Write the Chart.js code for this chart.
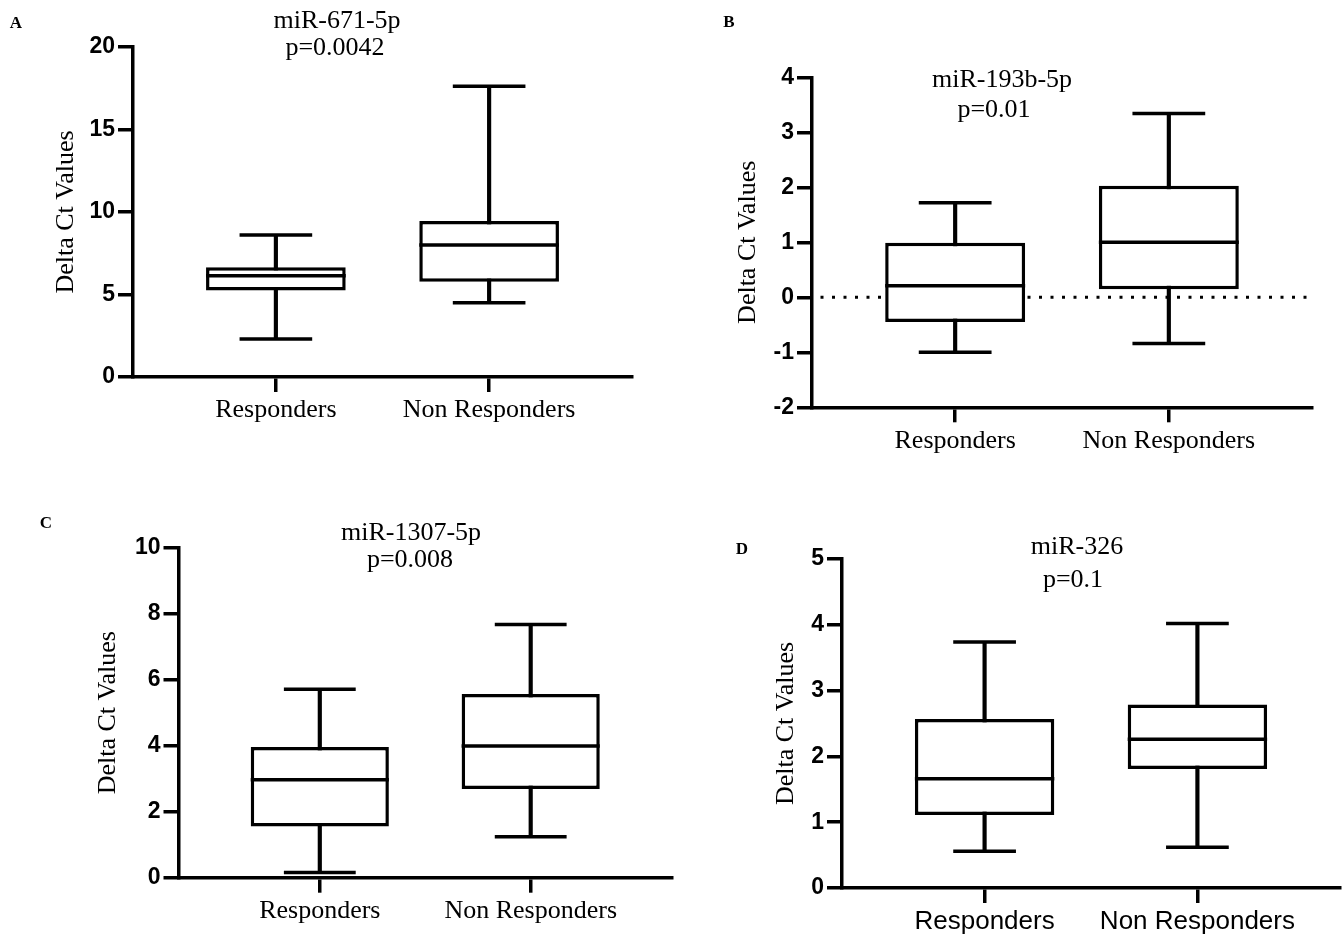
<!DOCTYPE html>
<html>
<head>
<meta charset="utf-8">
<script src="https://cdn.jsdelivr.net/npm/chart.js@4.4.0/dist/chart.umd.min.js"></script>
<style>
  html, body { margin: 0; padding: 0; background: #fff; }
  #fig { position: relative; width: 1343px; height: 934px; overflow: hidden; background: #fff; }
  #fig canvas { position: absolute; }
</style>
</head>
<body>
<div id="fig">
  <canvas id="chartA"></canvas>
  <canvas id="chartB"></canvas>
  <canvas id="chartC"></canvas>
  <canvas id="chartD"></canvas>
</div>
<script>
/* === DATA === */
const categories = ['Responders', 'Non Responders'];
// each box: [min, q1, median, q3, max]
const respondersA = [2.30, 5.24, 6.13, 6.65, 8.61];
const nonRespondersA = [4.50, 5.77, 8.00, 9.46, 17.62];
const respondersB = [-1.00, -0.45, 0.21, 0.99, 1.72];
const nonRespondersB = [-0.84, 0.145, 1.00, 2.03, 3.34];
const respondersC = [0.16, 1.55, 2.97, 3.96, 5.71];
const nonRespondersC = [1.24, 2.69, 3.99, 5.57, 7.67];
const respondersD = [0.56, 1.11, 1.66, 2.57, 3.74];
const nonRespondersD = [0.62, 1.81, 2.26, 2.79, 4.02];

const panelLetters = ['A', 'B', 'C', 'D'];
const panelTitles = ['miR-671-5p', 'miR-193b-5p', 'miR-1307-5p', 'miR-326'];
const pValues = ['p=0.0042', 'p=0.01', 'p=0.008', 'p=0.1'];
const yMins = [0, -2, 0, 0];
const yMaxs = [20, 4, 10, 5];
const ySteps = [5, 1, 2, 1];
const yTitle = 'Delta Ct Values';

/* === STYLE / LAYOUT === */
const LINE = 3.5;
const X_MIN = 0.33, X_MAX = 2.67;
const SERIF = 'Liberation Serif, Times New Roman, serif';
const SANS = 'Liberation Sans, Arial, sans-serif';

// page coordinates: canvas [left, top, w, h], plot area [left, top, right, bottom]
const LAYOUT = [
  { id: 'chartA', canvas: [0, 0, 670, 440], area: [133, 47, 632, 377], yTitleX: 66,
    title: [337, 21], pval: [335, 48], letter: [16, 24], capRatio: 0.52, xFont: SERIF },
  { id: 'chartB', canvas: [680, 0, 663, 470], area: [812, 77.3, 1312, 407.3], yTitleX: 748.5,
    title: [1002, 80], pval: [994, 110], letter: [729, 23], capRatio: 0.52, xFont: SERIF, zeroLine: true },
  { id: 'chartC', canvas: [0, 480, 690, 454], area: [178.5, 547.7, 672, 877.7], yTitleX: 108,
    title: [411, 533], pval: [410, 560], letter: [46, 524], capRatio: 0.52, xFont: SERIF },
  { id: 'chartD', canvas: [700, 480, 643, 454], area: [842, 559, 1340, 888], yTitleX: 786,
    title: [1077, 547], pval: [1073, 580], letter: [742, 550], capRatio: 0.45, xFont: SANS }
];

const panelStats = [
  [respondersA, nonRespondersA],
  [respondersB, nonRespondersB],
  [respondersC, nonRespondersC],
  [respondersD, nonRespondersD]
];

Chart.defaults.font.family = SANS;
Chart.defaults.color = '#000';

/* === PANEL BUILDER === */
function makePanel(k) {
  const L = LAYOUT[k];
  const stats = panelStats[k];
  const [cl, ct, cw, ch] = L.canvas;
  const [al, at, ar, ab] = L.area;

  const el = document.getElementById(L.id);
  el.width = cw; el.height = ch;
  el.style.left = cl + 'px'; el.style.top = ct + 'px';
  el.style.width = cw + 'px'; el.style.height = ch + 'px';

  // whisker caps + median lines, drawn through the scales
  const boxMarks = {
    id: 'boxMarks' + k,
    afterDatasetsDraw(chart) {
      const { ctx, scales: { x, y } } = chart;
      const boxes = chart.getDatasetMeta(0).data;
      ctx.save();
      ctx.strokeStyle = '#000';
      ctx.lineWidth = LINE;
      ctx.lineCap = 'butt';
      stats.forEach((s, i) => {
        const half = boxes[i].width / 2;
        const cx = x.getPixelForValue(i + 1);
        const capHalf = half * L.capRatio;
        const seg = (x0, x1, v) => {
          const py = y.getPixelForValue(v);
          ctx.beginPath(); ctx.moveTo(x0, py); ctx.lineTo(x1, py); ctx.stroke();
        };
        seg(cx - half, cx + half, s[2]);
        seg(cx - capHalf, cx + capHalf, s[0]);
        seg(cx - capHalf, cx + capHalf, s[4]);
      });
      ctx.restore();
    }
  };

  const labels = {
    id: 'labels' + k,
    afterDraw(chart) {
      const ctx = chart.ctx;
      ctx.save();
      ctx.fillStyle = '#000';
      ctx.textAlign = 'center';
      ctx.textBaseline = 'middle';
      ctx.font = '26px ' + SERIF;
      ctx.fillText(panelTitles[k], L.title[0] - cl, L.title[1] - ct);
      ctx.fillText(pValues[k], L.pval[0] - cl, L.pval[1] - ct);
      ctx.font = 'bold 17px ' + SERIF;
      ctx.fillText(panelLetters[k], L.letter[0] - cl, L.letter[1] - ct);
      ctx.restore();
    }
  };

  const datasets = [
    {
      type: 'bar', label: 'box',
      data: stats.map((s, i) => ({ x: i + 1, y: [s[1], s[3]] })),
      backgroundColor: '#fff', borderColor: '#000', borderWidth: LINE,
      borderSkipped: false, grouped: false,
      barPercentage: 0.655, categoryPercentage: 1, order: 1
    },
    {
      type: 'bar', label: 'whisker',
      data: stats.map((s, i) => ({ x: i + 1, y: [s[0], s[4]] })),
      backgroundColor: '#000', borderWidth: 0, grouped: false,
      maxBarThickness: LINE, barPercentage: 1, categoryPercentage: 1, order: 2
    }
  ];
  if (L.zeroLine) {
    datasets.push({
      type: 'line', label: 'zero',
      data: [{ x: X_MIN, y: 0 }, { x: X_MAX, y: 0 }],
      borderColor: '#000', borderWidth: 3, borderDash: [3, 8.5], borderDashOffset: 3,
      pointRadius: 0, order: 3
    });
  }

  const tickGrid = { drawOnChartArea: false, drawTicks: true, tickLength: 15, lineWidth: LINE, color: '#000', offset: false };
  const axisBorder = { display: true, color: '#000', width: LINE };

  return new Chart(el, {
    type: 'bar',
    data: { datasets },
    plugins: [boxMarks, labels],
    options: {
      responsive: false,
      animation: false,
      events: [],
      devicePixelRatio: 1,
      layout: { padding: { left: 0, top: at - ct, right: cw - (ar - cl), bottom: 0 } },
      plugins: { legend: { display: false }, tooltip: { enabled: false }, title: { display: false } },
      scales: {
        x: {
          type: 'linear', min: X_MIN, max: X_MAX, offset: false,
          afterBuildTicks: s => { s.ticks = categories.map((c, i) => ({ value: i + 1 })); },
          afterFit: s => { s.height = ch - (ab - ct); },
          ticks: {
            callback: v => categories[v - 1],
            font: { family: L.xFont, size: 26 }, color: '#000',
            padding: 3, autoSkip: false, maxRotation: 0
          },
          grid: tickGrid,
          border: axisBorder
        },
        y: {
          min: yMins[k], max: yMaxs[k],
          afterFit: s => { s.width = al - cl; },
          ticks: { stepSize: ySteps[k], font: { family: SANS, size: 23, weight: 'bold' }, color: '#000', padding: 3 },
          grid: tickGrid,
          border: axisBorder,
          title: {
            display: true, text: yTitle, color: '#000',
            font: { family: SERIF, size: 26 },
            padding: { top: L.yTitleX - cl - 15.6, bottom: 0 }
          }
        }
      }
    }
  });
}

window.addEventListener('load', () => {
  LAYOUT.forEach((_, k) => makePanel(k));
});
</script>
</body>
</html>
